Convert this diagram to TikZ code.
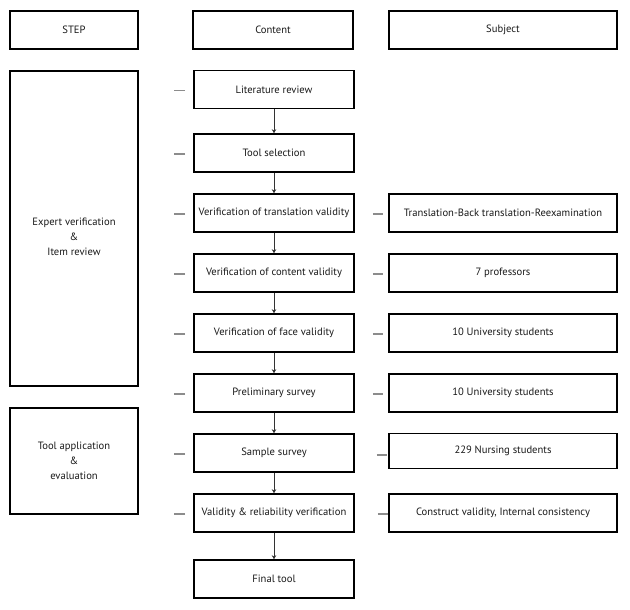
\documentclass[tikz,border=0pt]{standalone}
\usepackage{fontspec}
\setmainfont{PT Sans}
\usetikzlibrary{arrows.meta}
\begin{document}
\begin{tikzpicture}[x=1pt,y=-1pt,
  box/.style={draw=black,line width=1.6pt,fill=white,inner sep=0pt,align=center,font=\fontsize{10.6}{15}\selectfont,text=black!90},
  cbox/.style={box,minimum width=160pt,minimum height=38pt},
  sbox/.style={box,minimum width=228pt,minimum height=38pt},
  tick/.style={draw=black!45,line width=1.4pt},
  flow/.style={draw=black!80,line width=0.8pt,-{Stealth[length=4pt,width=4.5pt]}}]
\useasboundingbox (0,0) rectangle (630,610);
% headers
\node[box,minimum width=128pt,minimum height=38pt] (hstep) at (74,30) {STEP};
\node[cbox] (hcont) at (273,30) {Content};
\node[sbox] (hsubj) at (503,30) {Subject};
% left boxes
\node[box,minimum width=128pt,minimum height=315pt] (l1) at (74,228.5) {};
\node[align=center,font=\fontsize{10.6}{15}\selectfont,text=black!90] (l1t) at (74,237) {Expert verification\\\&\\Item review};
\node[box,minimum width=128pt,minimum height=106pt] (l2) at (74,461) {Tool application\\\&\\evaluation};
% content
\node[cbox] (c1) at (274,89.5) {Literature review};
\node[cbox] (c2) at (274,153) {Tool selection};
\node[cbox] (c3) at (274,213) {Verification of translation validity};
\node[cbox] (c4) at (274,273) {Verification of content validity};
\node[cbox] (c5) at (274,333) {Verification of face validity};
\node[cbox] (c6) at (274,393) {Preliminary survey};
\node[cbox] (c7) at (274,453) {Sample survey};
\node[cbox] (c8) at (274,513) {Validity \& reliability verification};
\node[cbox] (c9) at (274,579) {Final tool};
% subjects
\node[sbox] (s3) at (503,213) {Translation-Back translation-Reexamination};
\node[sbox] (s4) at (503,273) {7 professors};
\node[sbox] (s5) at (503,333) {10 University students};
\node[sbox] (s6) at (503,393) {10 University students};
\node[sbox,minimum height=35pt] (s7) at (503,451) {229 Nursing students};
\node[sbox] (s8) at (503,513) {Construct validity, Internal consistency};
% arrows
\foreach \a/\b in {c1/c2,c2/c3,c3/c4,c4/c5,c5/c6,c6/c7,c7/c8,c8/c9}
  \draw[flow] (\a.south) -- (\b.north);
% left ticks
\foreach \c in {c1,c2,c3,c4,c5,c6,c7,c8}
  \draw[tick] ([xshift=-8pt,yshift=-1pt]\c.west) -- ++(-11,0);
% right ticks
\foreach \c in {c3,c4,c5,c6}
  \draw[tick] ([xshift=18pt,yshift=-1pt]\c.east) -- ++(10,0);
\draw[tick] ([xshift=22pt,yshift=-2pt]c7.east) -- ++(10,0);
\draw[tick] ([xshift=23pt,yshift=-1pt]c8.east) -- ++(10,0);
\end{tikzpicture}
\end{document}
